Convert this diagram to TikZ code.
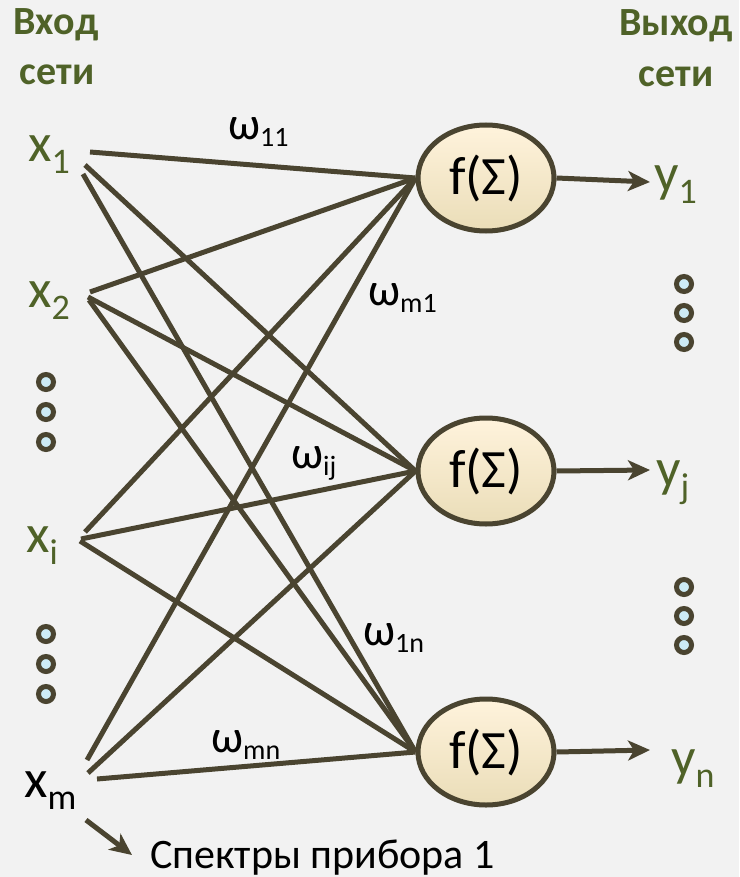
\documentclass[tikz,border=0pt]{standalone}
\usepackage{fontspec}
\setmainfont{Carlito}
\usetikzlibrary{shapes.geometric,arrows.meta}
\definecolor{bgc}{HTML}{F2F2F2}
\definecolor{linec}{HTML}{4A4430}
\definecolor{greenc}{HTML}{4F6228}
\definecolor{dotfill}{HTML}{CDEBF5}
\definecolor{elltop}{HTML}{FFF3DC}
\definecolor{ellbot}{HTML}{EADDB8}
\newcommand\lowsub[3]{\raisebox{-#3pt}{\fontsize{#2}{#2}\selectfont #1}}
\tikzset{
  wire/.style={draw=linec,line width=5pt},
  outarrow/.style={draw=linec,line width=5pt,-{Stealth[length=22pt,width=20pt,inset=6pt]}},
  neuron/.style={ellipse,draw=linec,line width=5pt,top color=elltop,bottom color=ellbot,minimum width=136pt,minimum height=106pt,inner sep=0pt,font=\fontsize{54}{54}\selectfont},
  dotc/.style={circle,draw=linec,line width=5pt,fill=dotfill,minimum size=15pt,inner sep=0pt},
  inlab/.style={anchor=base west,inner sep=0pt,text=greenc,font=\fontsize{54}{54}\selectfont},
  wlab/.style={anchor=base west,inner sep=0pt,font=\fontsize{46}{46}\selectfont},
  head/.style={inner sep=0pt,text=greenc,font=\fontsize{40}{40}\selectfont\bfseries}
}
\begin{document}
\begin{tikzpicture}[x=1pt,y=-1pt]
\fill[bgc] (0,0) rectangle (739,877);
\useasboundingbox (0,0) rectangle (739,877);

% headers
\node[head] (h1) at (56,25) {Вход};
\node[head] (h2) at (57,75) {сети};
\node[head] (h3) at (676,26) {Выход};
\node[head] (h4) at (676,77) {сети};

% neurons
\node[neuron] (n1) at (486,178) {f(Σ)};
\node[neuron] (n2) at (486,471) {f(Σ)};
\node[neuron] (n3) at (486,752) {f(Σ)};

% input labels
\node[inlab] (lx1) at (28,162) {x\lowsub{1}{36}{12}};
\node[inlab] (lx2) at (28,307) {x\lowsub{2}{36}{12}};
\node[inlab] (lxi) at (26,552) {x\lowsub{i}{36}{12}};
\node[inlab,text=black] (lxm) at (24,797) {x\lowsub{m}{36}{12}};

% output labels
\node[inlab] (ly1) at (654,192) {y\lowsub{1}{36}{12}};
\node[inlab] (lyj) at (656,486) {y\lowsub{j}{36}{12}};
\node[inlab] (lyn) at (671,775) {y\lowsub{n}{36}{12}};

% wire start coordinates
\coordinate (a1) at (90,152);
\coordinate (a2) at (85,165);
\coordinate (a3) at (83,174);
\coordinate (b1) at (90,292);
\coordinate (b2) at (88,297);
\coordinate (b3) at (89,300);
\coordinate (c1) at (85,532);
\coordinate (c2) at (81,539);
\coordinate (c3) at (80,541);
\coordinate (d1) at (87,760);
\coordinate (d2) at (88,773);
\coordinate (d3) at (97,779);

\foreach \s/\t in {a1/n1,a2/n2,a3/n3,b1/n1,b2/n2,b3/n3,c1/n1,c2/n2,c3/n3,d1/n1,d2/n2,d3/n3}
  \draw[wire] (\s) -- (\t.west);

% outputs
\coordinate (o1) at (650,182);
\coordinate (o2) at (650,470);
\coordinate (o3) at (650,750);
\draw[outarrow] (n1.east) -- (o1);
\draw[outarrow] (n2.east) -- (o2);
\draw[outarrow] (n3.east) -- (o3);

% weight labels
\node[wlab] (w11) at (228,140) {ω\lowsub{11}{28}{7}};
\node[wlab] (wm1) at (368,305) {ω\lowsub{m1}{28}{7}};
\node[wlab] (wij) at (291,468) {ω\lowsub{ij}{28}{7}};
\node[wlab] (w1n) at (363,645) {ω\lowsub{1n}{28}{7}};
\node[wlab] (wmn) at (211,752) {ω\lowsub{mn}{28}{7}};

% dots
\foreach \y [count=\k] in {382,412,442}
  \node[dotc] (ld\k) at (46,\y) {};
\foreach \y [count=\k] in {634,664,694}
  \node[dotc] (le\k) at (46,\y) {};
\foreach \y [count=\k] in {284,313,342}
  \node[dotc] (rd\k) at (684,\y) {};
\foreach \y [count=\k] in {587,616,645}
  \node[dotc] (re\k) at (684,\y) {};

% spectra
\node[anchor=base west,inner sep=0pt,font=\fontsize{42}{42}\selectfont] (sp) at (150,868) {Спектры прибора 1};
\coordinate (sa) at (86,820);
\coordinate (sb) at (132,855);
\draw[outarrow] (sa) -- (sb);
\end{tikzpicture}
\end{document}
